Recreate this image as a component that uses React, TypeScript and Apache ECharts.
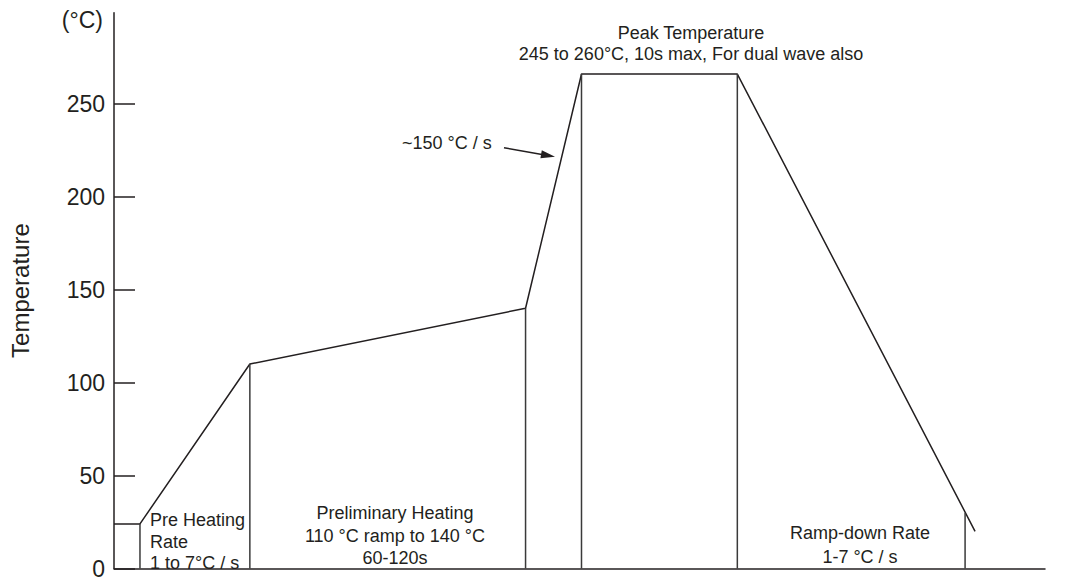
import React, { useEffect, useRef } from "react";
import * as echarts from "echarts";

// Reflow profile (time in arbitrary seconds, temperature in °C)
const timeSec = [0, 13, 68, 206, 234, 312, 431];
const profileTemp = [24, 24, 110, 140, 266, 266, 20];
// Vertical phase-boundary lines (time, top temperature)
const dropTimes = [13, 68, 206, 234, 312, 426];
const dropTemps = [24, 110, 140, 266, 266, 30];
// Y-axis ticks
const yTickValues = [0, 50, 100, 150, 200, 250];

const INK = "#231f20";
const FONT = "'Liberation Sans', Arial, Helvetica, sans-serif";

export default function App() {
  const ref = useRef<HTMLDivElement>(null);

  useEffect(() => {
    if (!ref.current) return;
    const chart = echarts.init(ref.current, undefined, { renderer: "svg" });

    const txt = (x: number, y: number, text: string, align: string = "center") => ({
      type: "text",
      x,
      y,
      style: {
        text,
        fill: INK,
        font: `18px ${FONT}`,
        textAlign: align,
        textVerticalAlign: "middle",
      },
    });

    const dropSeries = dropTimes.map((t, i) => ({
      type: "line",
      data: [
        [t, 0],
        [t, dropTemps[i]],
      ],
      symbol: "none",
      lineStyle: { color: "#3a3a3a", width: 1.5 },
      silent: true,
    }));

    chart.setOption({
      animation: false,
      backgroundColor: "#ffffff",
      textStyle: { fontFamily: FONT },
      grid: { left: 112.5, right: 22, top: 12.7, bottom: 7.3 },
      xAxis: {
        type: "value",
        min: 0,
        max: 466,
        axisLine: { show: true, lineStyle: { color: INK, width: 1.5 } },
        axisTick: { show: false },
        axisLabel: { show: false },
        splitLine: { show: false },
      },
      yAxis: {
        type: "value",
        min: 0,
        max: 299,
        interval: 50,
        name: "Temperature",
        nameLocation: "middle",
        nameRotate: 90,
        nameGap: 82,
        nameTextStyle: { color: INK, fontSize: 24, fontFamily: FONT },
        axisLine: { show: true, lineStyle: { color: INK, width: 1.5 } },
        axisTick: {
          show: true,
          inside: true,
          length: 21,
          customValues: yTickValues,
          lineStyle: { color: INK, width: 1.5 },
        },
        axisLabel: {
          customValues: yTickValues,
          color: INK,
          fontSize: 23,
          fontFamily: FONT,
          margin: 9,
        },
        splitLine: { show: false },
      },
      series: [
        {
          type: "line",
          data: timeSec.map((t, i) => [t, profileTemp[i]]),
          symbol: "none",
          lineStyle: { color: INK, width: 1.5 },
          silent: true,
        },
        ...dropSeries,
      ],
      graphic: [
        {
          type: "text",
          x: 103,
          y: 20,
          style: {
            text: "(°C)",
            fill: INK,
            font: `23px ${FONT}`,
            textAlign: "right",
            textVerticalAlign: "middle",
          },
        },
        txt(150, 520, "Pre Heating", "left"),
        txt(150, 542, "Rate", "left"),
        txt(150, 563, "1 to 7°C / s", "left"),
        txt(395, 513, "Preliminary Heating"),
        txt(395, 536, "110 °C ramp to 140 °C"),
        txt(395, 558, "60-120s"),
        txt(691, 33, "Peak Temperature"),
        txt(691, 54, "245 to 260°C, 10s max, For dual wave also"),
        txt(402, 143, "~150 °C / s", "left"),
        txt(860, 533, "Ramp-down Rate"),
        txt(860, 557, "1-7 °C / s"),
        {
          type: "line",
          shape: { x1: 504, y1: 147.7, x2: 542, y2: 154.4 },
          style: { stroke: INK, lineWidth: 1.5 },
        },
        {
          type: "polygon",
          shape: {
            points: [
              [555, 156.7],
              [540.4, 158.2],
              [541.8, 150.2],
            ],
          },
          style: { fill: INK },
        },
      ],
    });

    return () => chart.dispose();
  }, []);

  return (
    <div
      ref={ref}
      style={{ position: "fixed", left: 0, top: 0, width: 1067, height: 580 }}
    />
  );
}
